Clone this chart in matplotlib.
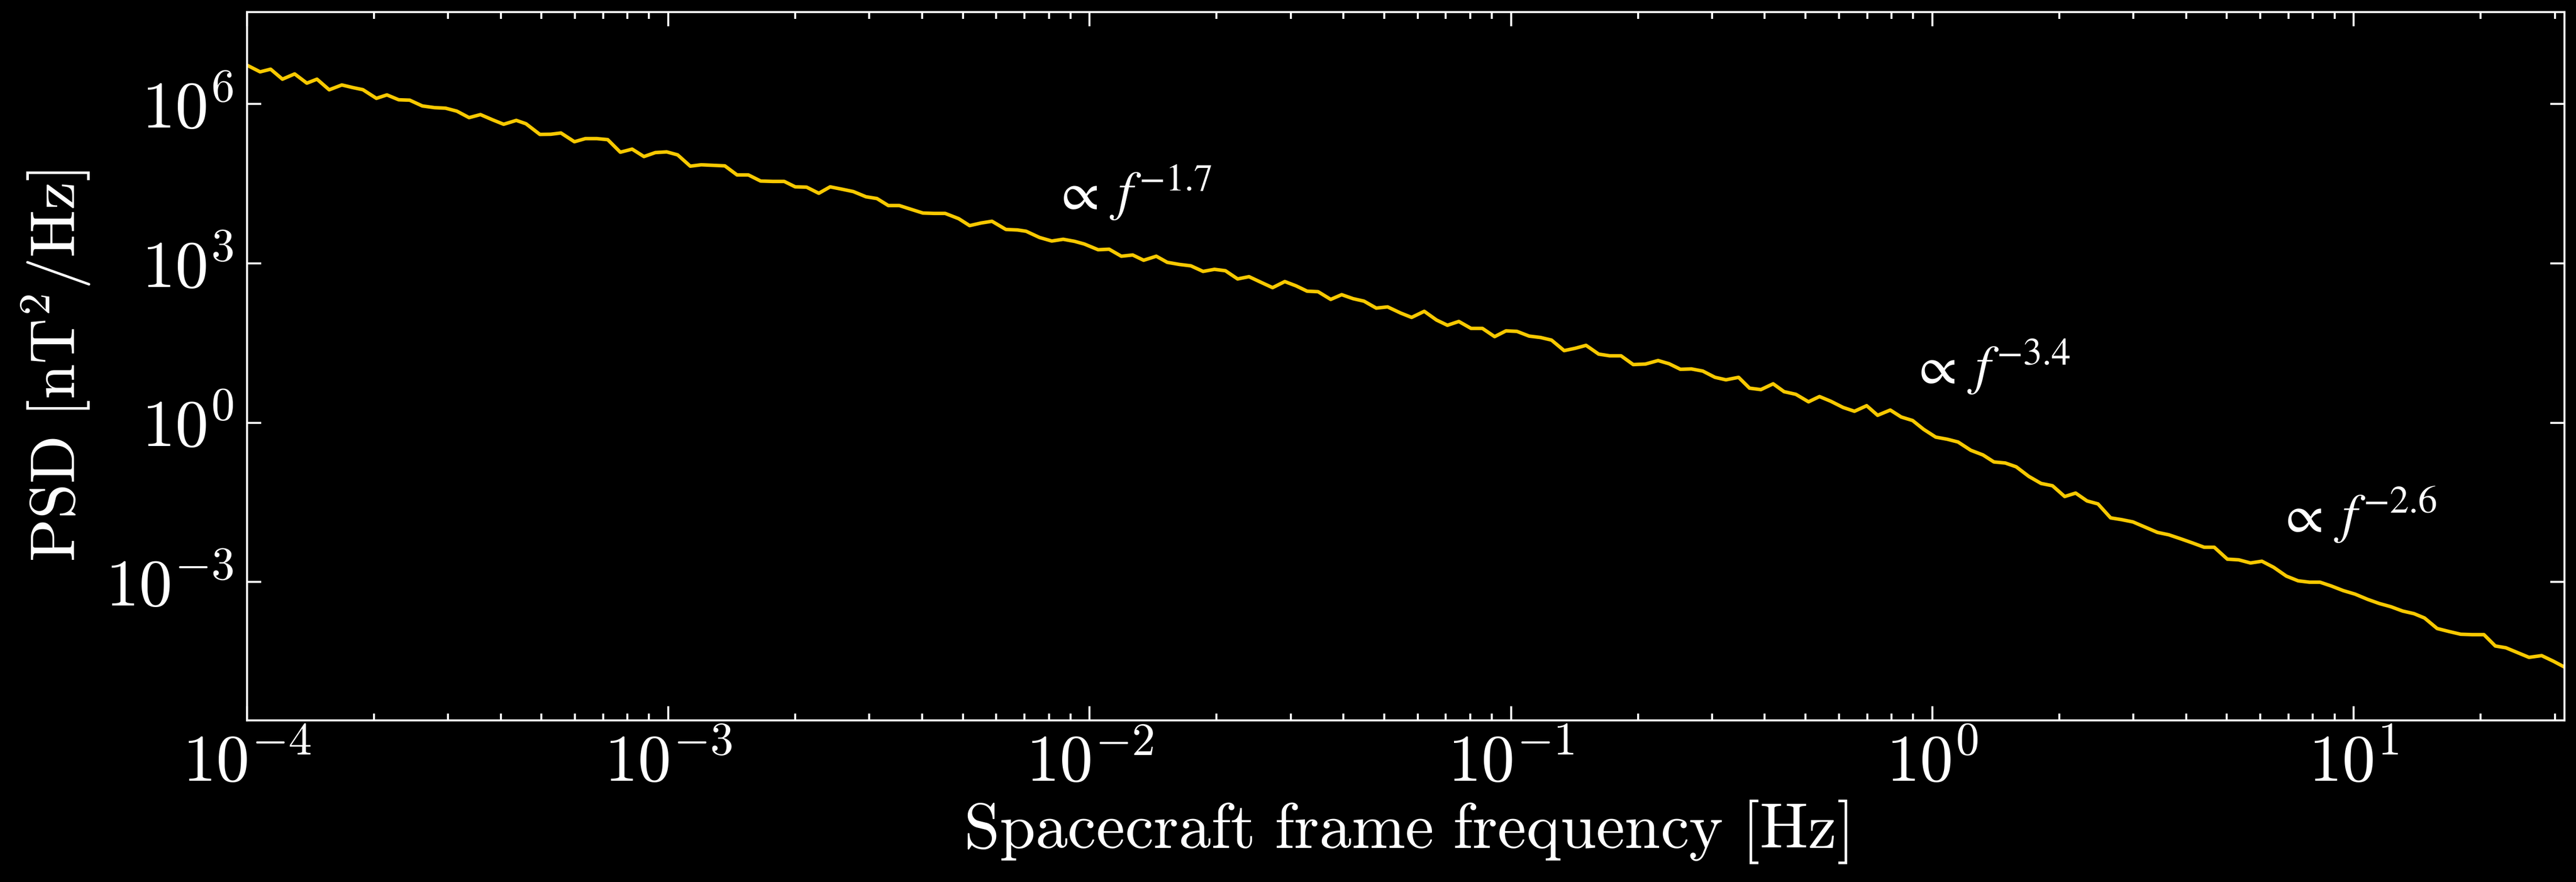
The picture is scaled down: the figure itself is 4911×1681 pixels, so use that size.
import numpy as np
import matplotlib
matplotlib.use("Agg")
import matplotlib.pyplot as plt
from matplotlib.ticker import FixedLocator, NullLocator, LogLocator

# values (log10 of frequency [Hz] and PSD [nT^2/Hz])
log_freq = [
    -4.000, -3.969, -3.944, -3.916, -3.887, -3.858, -3.834, -3.805, -3.775, -3.749,
    -3.725, -3.693, -3.668, -3.640, -3.614, -3.584, -3.555, -3.529, -3.502, -3.473,
    -3.446, -3.417, -3.391, -3.361, -3.338, -3.305, -3.279, -3.255, -3.223, -3.197,
    -3.170, -3.144, -3.114, -3.086, -3.058, -3.031, -3.004, -2.978, -2.948, -2.922,
    -2.893, -2.866, -2.837, -2.810, -2.781, -2.752, -2.725, -2.699, -2.672, -2.643,
    -2.616, -2.587, -2.561, -2.531, -2.505, -2.478, -2.452, -2.426, -2.396, -2.370,
    -2.343, -2.311, -2.285, -2.258, -2.232, -2.199, -2.171, -2.151, -2.119, -2.090,
    -2.063, -2.036, -2.013, -1.980, -1.954, -1.925, -1.898, -1.872, -1.842, -1.816,
    -1.787, -1.760, -1.731, -1.704, -1.678, -1.649, -1.622, -1.593, -1.566, -1.537,
    -1.510, -1.484, -1.458, -1.428, -1.402, -1.375, -1.349, -1.320, -1.293, -1.262,
    -1.236, -1.206, -1.177, -1.151, -1.124, -1.095, -1.068, -1.039, -1.012, -0.986,
    -0.957, -0.930, -0.904, -0.874, -0.848, -0.822, -0.792, -0.766, -0.739, -0.710,
    -0.681, -0.651, -0.625, -0.598, -0.572, -0.545, -0.516, -0.490, -0.460, -0.434,
    -0.407, -0.378, -0.352, -0.324, -0.294, -0.268, -0.241, -0.212, -0.185, -0.156,
    -0.130, -0.100, -0.074, -0.047, -0.021, 0.008, 0.035, 0.061, 0.091, 0.120,
    0.146, 0.173, 0.199, 0.229, 0.258, 0.285, 0.314, 0.340, 0.367, 0.393,
    0.423, 0.449, 0.476, 0.505, 0.534, 0.561, 0.593, 0.617, 0.645, 0.669,
    0.700, 0.727, 0.755, 0.782, 0.810, 0.840, 0.868, 0.895, 0.920, 0.947,
    0.975, 1.003, 1.033, 1.061, 1.088, 1.116, 1.143, 1.168, 1.198, 1.226,
    1.254, 1.281, 1.309, 1.336, 1.361, 1.388, 1.416, 1.446, 1.474, 1.500,
]
log_psd = [
    6.73, 6.605, 6.655, 6.467, 6.566, 6.392, 6.467, 6.267, 6.358, 6.309,
    6.269, 6.106, 6.171, 6.079, 6.072, 5.963, 5.931, 5.921, 5.865, 5.743,
    5.800, 5.701, 5.618, 5.691, 5.628, 5.427, 5.430, 5.454, 5.289, 5.348,
    5.348, 5.329, 5.092, 5.150, 5.010, 5.085, 5.098, 5.042, 4.829, 4.855,
    4.845, 4.835, 4.664, 4.664, 4.549, 4.542, 4.542, 4.440, 4.434, 4.319,
    4.440, 4.394, 4.351, 4.253, 4.220, 4.088, 4.088, 4.022, 3.947, 3.940,
    3.940, 3.841, 3.710, 3.759, 3.792, 3.638, 3.628, 3.604, 3.486, 3.420,
    3.453, 3.414, 3.364, 3.256, 3.266, 3.134, 3.157, 3.058, 3.134, 3.019,
    2.979, 2.953, 2.848, 2.887, 2.861, 2.706, 2.749, 2.641, 2.542, 2.657,
    2.575, 2.476, 2.466, 2.321, 2.410, 2.335, 2.288, 2.157, 2.180, 2.064,
    1.982, 2.097, 1.933, 1.834, 1.906, 1.775, 1.775, 1.620, 1.729, 1.719,
    1.630, 1.604, 1.555, 1.357, 1.400, 1.456, 1.291, 1.259, 1.259, 1.094,
    1.104, 1.170, 1.110, 1.005, 1.012, 0.972, 0.854, 0.807, 0.854, 0.650,
    0.623, 0.732, 0.584, 0.534, 0.393, 0.492, 0.403, 0.287, 0.215, 0.320,
    0.139, 0.238, 0.107, 0.041, -0.124, -0.272, -0.311, -0.364, -0.519, -0.607,
    -0.739, -0.759, -0.831, -1.012, -1.144, -1.187, -1.390, -1.325, -1.473, -1.529,
    -1.792, -1.825, -1.868, -1.966, -2.065, -2.110, -2.196, -2.263, -2.345, -2.345,
    -2.569, -2.582, -2.641, -2.608, -2.723, -2.888, -2.977, -3.003, -3.003, -3.075,
    -3.161, -3.227, -3.326, -3.405, -3.464, -3.546, -3.595, -3.677, -3.875, -3.931,
    -3.983, -3.990, -3.990, -4.204, -4.237, -4.326, -4.418, -4.385, -4.491, -4.600,
]

# slope labels: text, x, y
slope_labels = [r"$\propto\;f^{-1.7}$", r"$\propto\;f^{-3.4}$", r"$\propto\;f^{-2.6}$"]
slope_x = [0.0082, 0.89, 6.6]
slope_y = [1.0e4, 5.2, 8.6e-3]

freq = 10 ** np.array(log_freq)
psd = 10 ** np.array(log_psd)

plt.rcParams["mathtext.fontset"] = "cm"
plt.rcParams["font.family"] = "serif"
plt.rcParams["font.serif"] = ["cmr10", "DejaVu Serif"]
plt.rcParams["axes.formatter.use_mathtext"] = True

fig = plt.figure(figsize=(4911 / 300, 1681 / 300), dpi=300, facecolor="black")
ax = fig.add_axes([0.0959, 0.1835, 0.8996, 0.8028])
ax.set_facecolor("black")

ax.plot(freq, psd, color="#F8C900", lw=1.6)

ax.set_xscale("log")
ax.set_yscale("log")
ax.set_xlim(1e-4, 10 ** 1.5)
ax.set_ylim(10 ** -5.6, 10 ** 7.73)
ax.yaxis.set_major_locator(FixedLocator([1e-3, 1e0, 1e3, 1e6]))
ax.yaxis.set_minor_locator(NullLocator())
ax.xaxis.set_major_locator(LogLocator(base=10, numticks=20))
ax.xaxis.set_minor_locator(LogLocator(base=10, subs=np.arange(2, 10), numticks=20))

for s in ax.spines.values():
    s.set_color("white")
    s.set_linewidth(0.9)
ax.tick_params(which="both", direction="in", top=True, right=True,
               colors="white", width=0.9)
ax.tick_params(which="major", length=6.5, labelsize=30.5, pad=6)
ax.tick_params(which="minor", length=3.2)

ax.set_xlabel(r"$\mathrm{Spacecraft\ frame\ frequency\ [Hz]}$", color="white",
              fontsize=29.5, labelpad=2)
ax.set_ylabel(r"$\mathrm{PSD\ [nT^2/Hz]}$", color="white", fontsize=29, labelpad=6)

for lab, x, y in zip(slope_labels, slope_x, slope_y):
    ax.text(x, y, lab, color="white", fontsize=25, math_fontfamily="stix")

fig.savefig("out.png", dpi=300, facecolor="black")
